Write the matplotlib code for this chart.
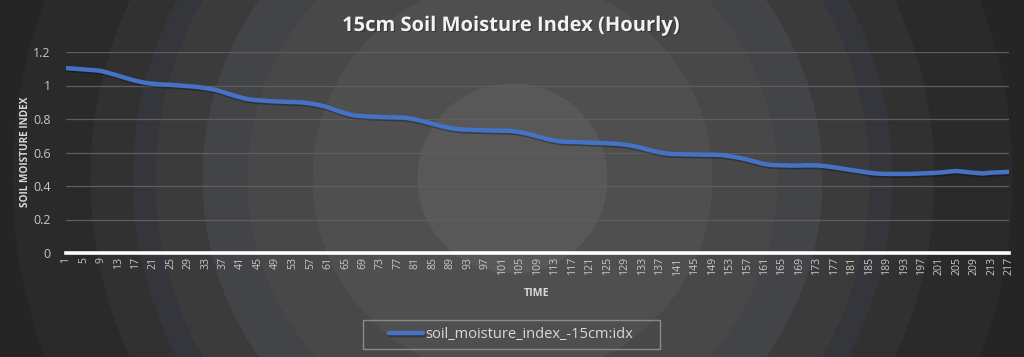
import numpy as np
import matplotlib
matplotlib.use("Agg")
import matplotlib.pyplot as plt
from matplotlib.colors import to_rgb
from matplotlib.patches import Rectangle
import matplotlib.patheffects as pe

# ---- data ----
moisture = [
    1.104, 1.102, 1.100, 1.098, 1.096, 1.094, 1.092, 1.090, 1.087,
    1.080, 1.073, 1.066, 1.058, 1.050, 1.042, 1.035,
    1.028, 1.022, 1.017, 1.013, 1.010,
    1.008, 1.006, 1.005, 1.004, 1.002, 1.000, 0.998, 0.996, 0.994, 0.991,
    0.988, 0.984, 0.980, 0.975, 0.969,
    0.960, 0.952, 0.944, 0.936, 0.929, 0.922, 0.917,
    0.914, 0.912, 0.910, 0.908, 0.906, 0.905, 0.904, 0.903, 0.902, 0.901, 0.900, 0.899,
    0.896, 0.892, 0.888, 0.883, 0.877, 0.869, 0.860, 0.851, 0.842, 0.834, 0.827, 0.821,
    0.819, 0.817, 0.815, 0.814, 0.813, 0.812, 0.811, 0.810, 0.810, 0.809, 0.808, 0.806, 0.802,
    0.797, 0.791, 0.785, 0.778, 0.771, 0.764, 0.757, 0.751, 0.746, 0.742, 0.739, 0.737,
    0.736, 0.735, 0.734, 0.733, 0.732, 0.732, 0.731, 0.731, 0.730, 0.730, 0.728, 0.725, 0.721,
    0.716, 0.710, 0.703, 0.696, 0.689, 0.682, 0.676, 0.671, 0.667, 0.665, 0.664,
    0.663, 0.662, 0.661, 0.660, 0.659, 0.658, 0.657, 0.656, 0.655, 0.654, 0.652, 0.650, 0.647, 0.643,
    0.638, 0.632, 0.626, 0.619, 0.612, 0.606, 0.600, 0.596, 0.593, 0.591,
    0.590, 0.590, 0.589, 0.589, 0.588, 0.588, 0.587, 0.587, 0.587, 0.586, 0.585, 0.582,
    0.578, 0.574, 0.569, 0.564, 0.558, 0.551, 0.544, 0.537, 0.531, 0.527, 0.525,
    0.524, 0.523, 0.523, 0.522, 0.522, 0.522, 0.523, 0.523, 0.523, 0.523, 0.521, 0.518,
    0.515, 0.511, 0.507, 0.503, 0.499, 0.495, 0.491, 0.487, 0.483, 0.479, 0.476, 0.474, 0.473,
    0.472, 0.472, 0.472, 0.472, 0.472, 0.472, 0.473, 0.474, 0.475, 0.476, 0.477, 0.478,
    0.480, 0.482, 0.485, 0.488, 0.489, 0.487, 0.484, 0.481, 0.479, 0.477, 0.475, 0.477,
    0.480, 0.481, 0.482, 0.483, 0.485,
]
hours = list(range(1, len(moisture) + 1))
x_tick_labels = [str(h) for h in hours[::4]]
y_ticks = [0, 0.2, 0.4, 0.6, 0.8, 1.0, 1.2]
y_tick_labels = ["0", "0.2", "0.4", "0.6", "0.8", "1", "1.2"]
series_name = "soil_moisture_index_-15cm:idx"
title = "15cm Soil Moisture Index (Hourly)"

W, H = 1024, 357
fig = plt.figure(figsize=(W / 100, H / 100), dpi=100)

# ---- radial banded background ----
bg = fig.add_axes([0, 0, 1, 1])
bg.set_axis_off()
yy, xx = np.mgrid[0:H, 0:W]
r = np.hypot(xx - 512, yy - 178)
stops = [
    (95, "#585858"), (200, "#4f4f4f"), (265, "#484848"), (310, "#434448"),
    (357, "#3b3b3b"), (380, "#34363b"), (422, "#313131"), (500, "#2a2a2a"),
    (560, "#252525"), (1e9, "#202020"),
]
img = np.zeros((H, W, 3))
prev = -1
for rad, col in stops:
    mask = (r > prev) & (r <= rad)
    img[mask] = to_rgb(col)
    prev = rad
bg.imshow(img, extent=[0, 1, 0, 1], aspect="auto", origin="upper")
bg.set_xlim(0, 1); bg.set_ylim(0, 1)

# legend frame drawn in figure pixels
bg.add_patch(Rectangle((363 / W, 1 - 349 / H), (660 - 363) / W, 29 / H,
                       transform=fig.transFigure, facecolor="none",
                       edgecolor="#8a8a8a", lw=1.0))

# ---- main axes ----
left, right = 66 / W, 1009 / W
bottom, top = 1 - 253 / H, 1 - 52 / H
ax = fig.add_axes([left, bottom, right - left, top - bottom])
ax.patch.set_alpha(0)
ax.plot(hours, moisture, color="#4472C4", lw=3.2, solid_capstyle="round",
        label=series_name,
        path_effects=[pe.SimpleLineShadow(offset=(0.8, -1.2), alpha=0.3), pe.Normal()])
ax.set_xlim(1, hours[-1])
ax.set_ylim(0, 1.2)
ax.set_yticks(y_ticks)
ax.set_yticklabels(y_tick_labels)
ax.set_xticks(hours[::4])
ax.set_xticklabels(x_tick_labels, rotation=90)
for s in ["top", "right", "left"]:
    ax.spines[s].set_visible(False)
ax.spines["bottom"].set_color("white")
ax.spines["bottom"].set_linewidth(2.6)
ax.grid(axis="y", color="#5e5e5e", lw=0.9)
ax.set_axisbelow(True)
ax.tick_params(axis="y", length=0, pad=11, labelsize=9, labelcolor="#c8c8c8")
ax.tick_params(axis="x", length=0, pad=3, labelsize=7.6, labelcolor="#c8c8c8")
for lab in ax.get_xticklabels() + ax.get_yticklabels():
    lab.set_fontfamily("Open Sans")

fig.text(511 / W, 1 - 26 / H, title, ha="center", va="center", fontsize=14.5,
         fontweight="bold", color="#f2f2f2", family="Open Sans",
         path_effects=[pe.withSimplePatchShadow(offset=(0.8, -0.8), alpha=0.3,
                                                shadow_rgbFace="black")])
fig.text(26 / W, 1 - 152 / H, "SOIL MOISTURE INDEX", ha="center", va="center",
         rotation=90, fontsize=7.2, fontweight="bold", color="#d9d9d9", family="Open Sans")
fig.text(537 / W, 1 - 293 / H, "TIME", ha="center", va="center",
         fontsize=7.6, fontweight="bold", color="#d9d9d9", family="Open Sans")

leg = ax.legend(loc="center", bbox_to_anchor=((511 / W - left) / (right - left),
                (1 - 334.5 / H - bottom) / (top - bottom)),
                frameon=False, handlelength=2.3, handletextpad=0.15,
                prop={"family": "Open Sans", "size": 10.5})
for t in leg.get_texts():
    t.set_color("#d9d9d9")

fig.savefig("out.png", dpi=100)
